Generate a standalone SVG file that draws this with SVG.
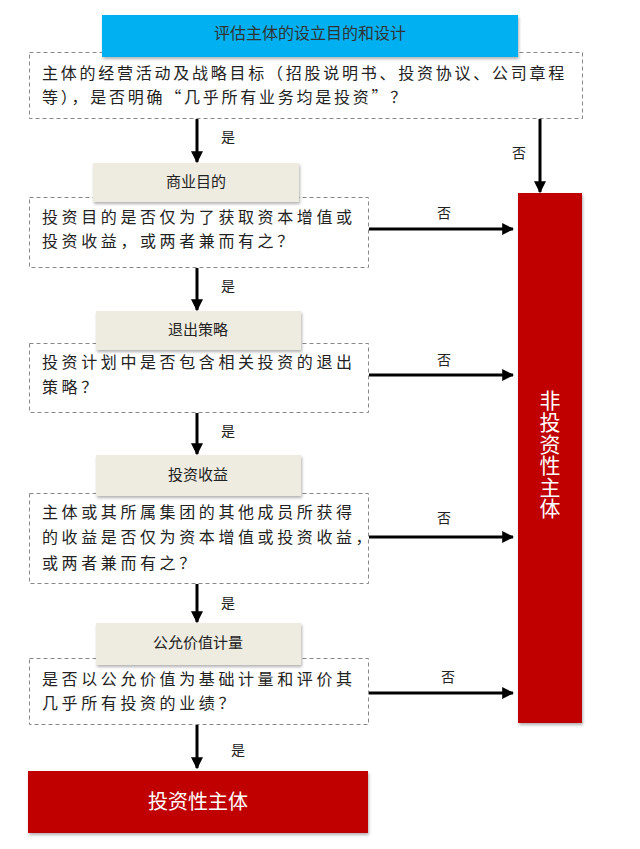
<svg xmlns="http://www.w3.org/2000/svg" width="640" height="849" viewBox="0 0 640 849">
<defs>
<filter id="sh" x="-10%" y="-10%" width="125%" height="140%">
<feDropShadow dx="1" dy="2" stdDeviation="1.5" flood-color="#000" flood-opacity="0.3"/>
</filter>
<marker id="ah" viewBox="0 0 10 10" refX="9" refY="5" markerWidth="4" markerHeight="4" orient="auto" markerUnits="strokeWidth">
<path d="M0,0 L10,5 L0,10 z" fill="#000"/>
</marker>
<style>
.q{fill:#fff;stroke:#888;stroke-width:1;stroke-dasharray:4 3}
.qt{font-family:"Noto Sans CJK SC","Noto Sans",sans-serif;font-size:16px;fill:#222;letter-spacing:3.6px}
.tag{fill:#EEECE1;filter:url(#sh)}
.tagt{font-family:"Noto Sans CJK SC","Noto Sans",sans-serif;font-size:15px;fill:#222;text-anchor:middle}
.red{fill:#C00000;filter:url(#sh)}
.lab{font-family:"Noto Sans CJK SC","Noto Sans",sans-serif;font-size:14px;fill:#222;text-anchor:middle}
.ar{stroke:#000;stroke-width:3;fill:none;marker-end:url(#ah)}
</style>
</defs>
<rect width="640" height="849" fill="#fff"/>

<g id="q1">
<rect class="q" x="29.5" y="52.5" width="553" height="66"/>
<text class="qt" x="42" y="79" style="letter-spacing:2.75px">主体的经营活动及战略目标（招股说明书、投资协议、公司章程</text>
<text class="qt" x="42" y="103" style="letter-spacing:2.75px">等），是否明确“几乎所有业务均是投资”？</text>
</g>
<g id="title">
<rect x="102" y="15" width="416" height="42" fill="#00B0F0" filter="url(#sh)"/>
<text class="tagt" x="310" y="39" style="fill:#333;font-size:16px">评估主体的设立目的和设计</text>
</g>

<g id="q2">
<rect class="q" x="29.5" y="197.5" width="339" height="70"/>
<text class="qt" x="42" y="223">投资目的是否仅为了获取资本增值或</text>
<text class="qt" x="42" y="247">投资收益，或两者兼而有之？</text>
</g>
<g id="t2">
<rect class="tag" x="93" y="163" width="206" height="39"/>
<text class="tagt" x="196" y="187">商业目的</text>
</g>

<g id="q3">
<rect class="q" x="29.5" y="343.5" width="339" height="69"/>
<text class="qt" x="42" y="368">投资计划中是否包含相关投资的退出</text>
<text class="qt" x="42" y="393">策略？</text>
</g>
<g id="t3">
<rect class="tag" x="96" y="311" width="205" height="39"/>
<text class="tagt" x="198" y="335">退出策略</text>
</g>

<g id="q4">
<rect class="q" x="29.5" y="493.5" width="339" height="90"/>
<text class="qt" x="42" y="518">主体或其所属集团的其他成员所获得</text>
<text class="qt" x="42" y="543">的收益是否仅为资本增值或投资收益，</text>
<text class="qt" x="42" y="569">或两者兼而有之？</text>
</g>
<g id="t4">
<rect class="tag" x="96" y="455" width="205" height="41"/>
<text class="tagt" x="198" y="480">投资收益</text>
</g>

<g id="q5">
<rect class="q" x="29.5" y="658.5" width="339" height="66"/>
<text class="qt" x="42" y="685">是否以公允价值为基础计量和评价其</text>
<text class="qt" x="42" y="709">几乎所有投资的业绩？</text>
</g>
<g id="t5">
<rect class="tag" x="96" y="623" width="205" height="42"/>
<text class="tagt" x="198" y="648">公允价值计量</text>
</g>

<g id="nonie">
<rect class="red" x="518" y="193" width="64" height="530"/>
<text x="550" y="390" font-family="'Noto Sans CJK SC',sans-serif" font-size="21" fill="#fff" style="writing-mode:vertical-rl;letter-spacing:0.6px">非投资性主体</text>
</g>

<g id="ie">
<rect class="red" x="28" y="771" width="340" height="62"/>
<text x="198" y="809" font-family="'Noto Sans CJK SC',sans-serif" font-size="20" fill="#fff" text-anchor="middle">投资性主体</text>
</g>

<g id="connectors">
<line class="ar" x1="197" y1="119" x2="197" y2="162"/>
<text class="lab" x="228" y="142">是</text>
<line class="ar" x1="540" y1="119" x2="540" y2="192"/>
<text class="lab" x="519" y="158">否</text>

<line class="ar" x1="369" y1="229" x2="513" y2="229"/>
<text class="lab" x="444" y="218">否</text>
<line class="ar" x1="197" y1="268" x2="197" y2="310"/>
<text class="lab" x="228" y="291">是</text>

<line class="ar" x1="369" y1="375" x2="513" y2="375"/>
<text class="lab" x="444" y="365">否</text>
<line class="ar" x1="197" y1="413" x2="197" y2="454"/>
<text class="lab" x="228" y="436">是</text>

<line class="ar" x1="369" y1="537" x2="513" y2="537"/>
<text class="lab" x="444" y="523">否</text>
<line class="ar" x1="197" y1="584" x2="197" y2="622"/>
<text class="lab" x="228" y="608">是</text>

<line class="ar" x1="369" y1="693" x2="513" y2="693"/>
<text class="lab" x="448" y="682">否</text>
<line class="ar" x1="197" y1="725" x2="197" y2="768"/>
<text class="lab" x="238" y="755">是</text>
</g>
</svg>
